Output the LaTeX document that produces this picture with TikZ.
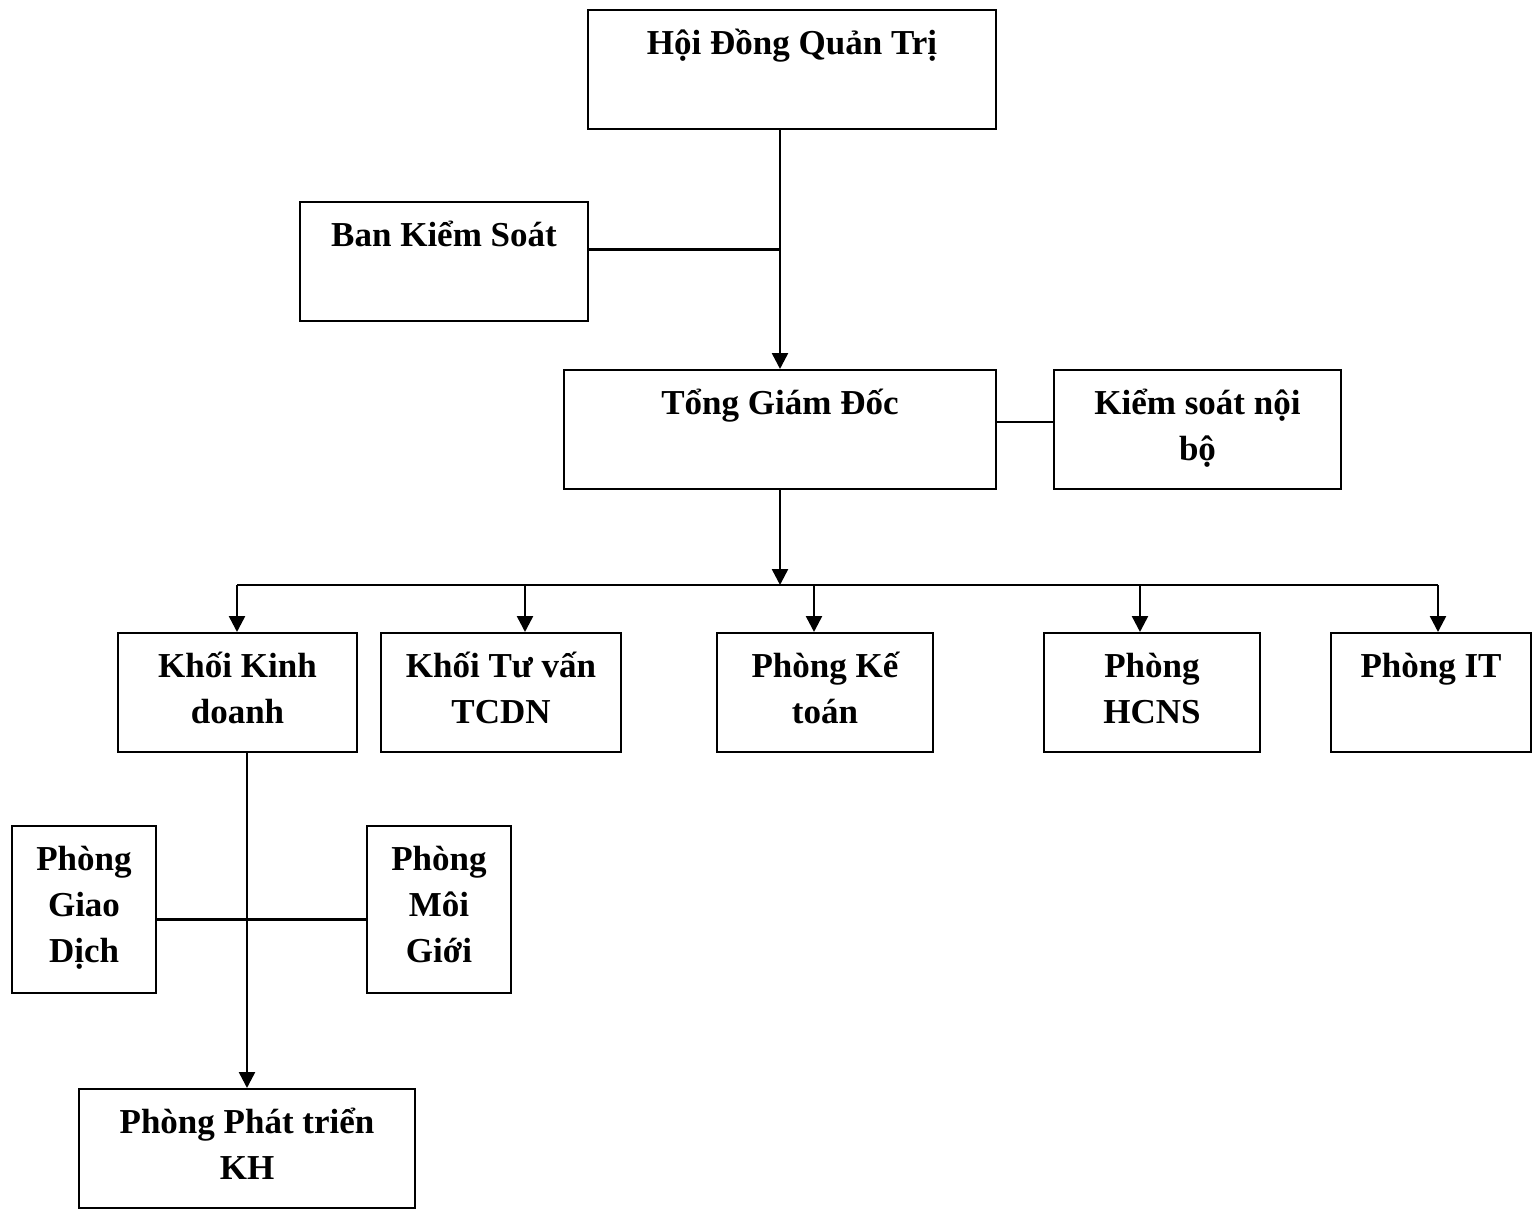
\documentclass[tikz,border=0pt]{standalone}
\usepackage{fontspec}
\setmainfont{Liberation Serif}
\usetikzlibrary{arrows.meta,calc}
\newcommand\leadstrut{\rule{0pt}{36pt}}
\begin{document}
\begin{tikzpicture}[x=1pt,y=-1pt,
  orgbox/.style={draw=black,line width=2pt,rectangle,inner sep=0pt,minimum height=119pt},
  orgtxt/.style={inner sep=0pt,anchor=north,align=center,font=\fontsize{35}{46}\selectfont\bfseries},
  conn/.style={draw=black,line width=2.5pt},
  arr/.style={conn,-{Triangle[length=16pt,width=16pt]}}]
\useasboundingbox (0,0) rectangle (1534,1209);
% boxes
\node[orgbox,minimum width=408pt] (hdqt) at (792,69.5) {};
\node[orgbox,minimum width=288pt] (bks) at (444,261.5) {};
\node[orgbox,minimum width=432pt] (tgd) at (780,429.5) {};
\node[orgbox,minimum width=287pt] (ksnb) at (1197.5,429.5) {};
\node[orgbox,minimum width=239pt] (kkd) at (237.5,692.5) {};
\node[orgbox,minimum width=240pt] (ktv) at (501,692.5) {};
\node[orgbox,minimum width=216pt] (pkt) at (825,692.5) {};
\node[orgbox,minimum width=216pt] (hcns) at (1152,692.5) {};
\node[orgbox,minimum width=200pt] (pit) at (1431,692.5) {};
\node[orgbox,minimum width=144pt,minimum height=167pt] (pgd) at (84,909.5) {};
\node[orgbox,minimum width=144pt,minimum height=167pt] (pmg) at (439,909.5) {};
\node[orgbox,minimum width=336pt] (ppt) at (247,1148.5) {};
% texts
\node[orgtxt] (hdqt-t) at ([yshift=-9pt]hdqt.north) {\leadstrut Hội Đồng Quản Trị};
\node[orgtxt] (bks-t) at ([yshift=-9pt]bks.north) {\leadstrut Ban Kiểm Soát};
\node[orgtxt] (tgd-t) at ([yshift=-9pt]tgd.north) {\leadstrut Tổng Giám Đốc};
\node[orgtxt] (ksnb-t) at ([yshift=-9pt]ksnb.north) {\leadstrut Kiểm soát nội\\bộ};
\node[orgtxt] (kkd-t) at ([yshift=-9pt]kkd.north) {\leadstrut Khối Kinh\\doanh};
\node[orgtxt] (ktv-t) at ([yshift=-9pt]ktv.north) {\leadstrut Khối Tư vấn\\TCDN};
\node[orgtxt] (pkt-t) at ([yshift=-9pt]pkt.north) {\leadstrut Phòng Kế\\toán};
\node[orgtxt] (hcns-t) at ([yshift=-9pt]hcns.north) {\leadstrut Phòng\\HCNS};
\node[orgtxt] (pit-t) at ([yshift=-9pt]pit.north) {\leadstrut Phòng IT};
\node[orgtxt] (pgd-t) at ([yshift=-9pt]pgd.north) {\leadstrut Phòng\\Giao\\Dịch};
\node[orgtxt] (pmg-t) at ([yshift=-9pt]pmg.north) {\leadstrut Phòng\\Môi\\Giới};
\node[orgtxt] (ppt-t) at ([yshift=-9pt]ppt.north) {\leadstrut Phòng Phát triển\\KH};
% connector points
\coordinate (bksout) at ($(bks.north east)!0.4!(bks.south east)$);
\coordinate (tgdout) at ($(tgd.north east)!0.44!(tgd.south east)$);
\coordinate (bus) at (780,585);
\coordinate (b1) at (237,585);
\coordinate (b2) at (525,585);
\coordinate (b3) at (814,585);
\coordinate (b4) at (1140,585);
\coordinate (b5) at (1438,585);
\coordinate (pgdout) at ($(pgd.north east)!0.56!(pgd.south east)$);
% connectors
\draw[arr] (tgd.north |- hdqt.south) -- (tgd.north);
\draw[conn] (bksout) -- (bksout -| tgd.north);
\draw[conn] (tgdout) -- (tgdout -| ksnb.west);
\draw[arr] (tgd.south) -- (bus);
\draw[conn] (b1) -- (b5);
\draw[arr] (b1) -- (b1 |- kkd.north);
\draw[arr] (b2) -- (b2 |- ktv.north);
\draw[arr] (b3) -- (b3 |- pkt.north);
\draw[arr] (b4) -- (b4 |- hcns.north);
\draw[arr] (b5) -- (b5 |- pit.north);
\draw[arr] (ppt.north |- kkd.south) -- (ppt.north);
\draw[conn] (pgdout) -- (pgdout -| pmg.west);
\end{tikzpicture}
\end{document}
